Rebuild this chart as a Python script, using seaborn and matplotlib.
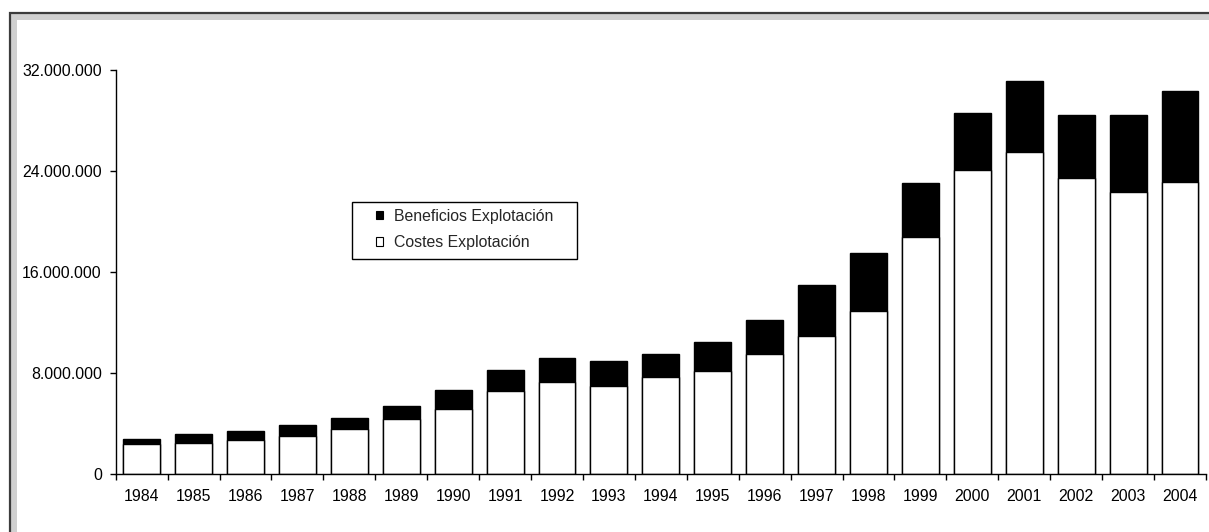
import numpy as np
import pandas as pd
import matplotlib
matplotlib.use("Agg")
import matplotlib.pyplot as plt
from matplotlib.patches import Rectangle, Patch
from matplotlib.ticker import FuncFormatter
import seaborn as sns

# Operating costs and operating profit per year (euros)
years = [str(y) for y in range(1984, 2005)]
costes = [2380000, 2480000, 2730000, 2980000, 3590000, 4330000, 5120000,
          6600000, 7310000, 6970000, 7680000, 8160000, 9480000, 10900000,
          12880000, 18770000, 24060000, 25500000, 23470000, 22360000, 23100000]
beneficios = [390000, 690000, 680000, 900000, 850000, 1080000, 1510000,
              1610000, 1880000, 1950000, 1820000, 2300000, 2690000, 4070000,
              4620000, 4260000, 4510000, 5630000, 4930000, 6040000, 7240000]
y_ticks = [0, 8000000, 16000000, 24000000, 32000000]

df = pd.DataFrame({"anio": years, "costes": costes, "beneficios": beneficios})
df["total"] = df["costes"] + df["beneficios"]

sns.set_style("ticks")
plt.rcParams["font.family"] = ["Liberation Sans", "DejaVu Sans"]
FS = 11.4

W, H = 1209, 532
fig = plt.figure(figsize=(W / 100, H / 100), dpi=100)
fig.patch.set_facecolor("white")

# Chart-area border: dark outline with a light grey band inside
fig.patches.append(Rectangle((10 / W, -0.2), 2.0, 1 - 13.3 / H + 0.2,
                             transform=fig.transFigure, facecolor="#d0d0d0",
                             edgecolor="#3c3c3c", linewidth=1.6, zorder=-10))
fig.patches.append(Rectangle((17.3 / W, -0.2), 2.0, 1 - 20 / H + 0.2,
                             transform=fig.transFigure, facecolor="white",
                             edgecolor="none", zorder=-9))

left, right, bottom, top = 115.7, 1206, 474, 70
ax = fig.add_axes([left / W, 1 - bottom / H, (right - left) / W, (bottom - top) / H])
ax.patch.set_alpha(0)

# Stacked bars: full height in black, costs in white on top of it
sns.barplot(data=df, x="anio", y="total", color="black", edgecolor="black",
            linewidth=1.0, width=0.71, saturation=1, ax=ax, order=years)
sns.barplot(data=df, x="anio", y="costes", color="white", edgecolor="black",
            linewidth=1.0, width=0.71, saturation=1, ax=ax, order=years)

ax.set_xlim(-0.5, len(years) - 0.5)
ax.set_ylim(0, 32000000)
ax.set_yticks(y_ticks)
ax.yaxis.set_major_formatter(FuncFormatter(lambda v, p: f"{int(v):,}".replace(",", ".")))
ax.set_xlabel("")
ax.set_ylabel("")

ax.set_xticks(np.arange(-0.5, len(years), 1.0), minor=True)
ax.tick_params(axis="x", which="major", length=0, pad=10.5, labelsize=FS, colors="black")
ax.tick_params(axis="x", which="minor", length=4.5, width=1.0, direction="out", color="black")
ax.tick_params(axis="y", which="major", length=4.5, width=1.0, direction="out",
               pad=5.5, labelsize=FS, colors="black")

sns.despine(ax=ax)
for s in ("left", "bottom"):
    ax.spines[s].set_color("black")
    ax.spines[s].set_linewidth(1.0)

# Legend with a plain rectangular box
fig.patches.append(Rectangle((352 / W, 1 - 259 / H), 225 / W, 57 / H,
                             transform=fig.transFigure, facecolor="none",
                             edgecolor="black", linewidth=1.0, zorder=3))
handles = [Patch(facecolor="black", edgecolor="black", linewidth=0.8, label="Beneficios Explotación"),
           Patch(facecolor="white", edgecolor="black", linewidth=0.8, label="Costes Explotación")]
leg = ax.legend(handles=handles, loc="upper left",
                bbox_to_anchor=(376 / W, 1 - 208.5 / H), bbox_transform=fig.transFigure,
                frameon=False, fontsize=FS, handlelength=0.45, handleheight=0.45,
                handletextpad=0.7, labelspacing=0.75, borderpad=0, borderaxespad=0)
leg.set_zorder(4)

fig.savefig("out.png", dpi=100)
